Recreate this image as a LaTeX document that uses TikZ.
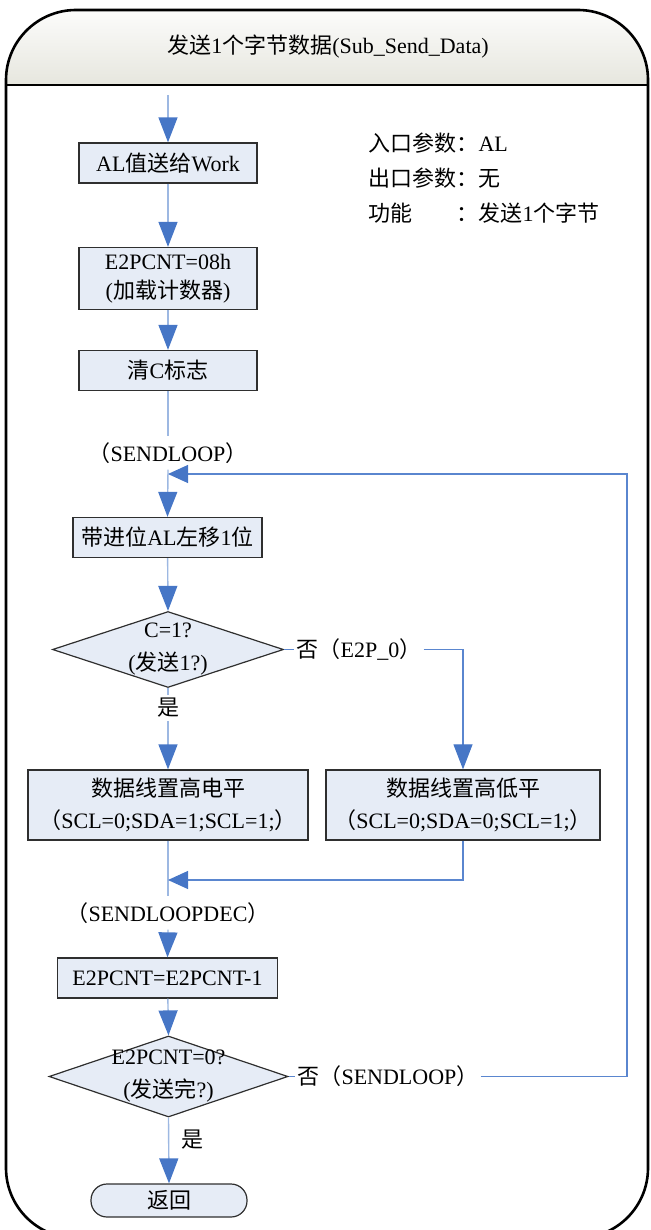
\documentclass[tikz,border=0pt]{standalone}
\usepackage{fontspec}
\setmainfont{Liberation Serif}
\newfontfamily\cjk{Noto Sans CJK SC}
\usetikzlibrary{arrows.meta,shapes.geometric}
\newcommand{\zh}[1]{{\cjk #1}}
\definecolor{boxfill}{HTML}{E6ECF6}
\definecolor{boxline}{HTML}{2F2F2F}
\definecolor{flow}{HTML}{9DB8E2}
\definecolor{loopc}{HTML}{5A86CF}
\definecolor{tipc}{HTML}{4676C6}
\definecolor{hdr}{HTML}{E6E6DE}
\begin{document}
\begin{tikzpicture}[x=1pt,y=-1pt,
  font=\fontsize{22}{29}\selectfont,
  proc/.style={draw=boxline,fill=boxfill,line width=1.3pt,inner sep=0pt,align=center},
  dec/.style={diamond,draw=boxline,fill=boxfill,line width=1.2pt,inner sep=0pt},
  lab/.style={inner sep=6pt},
  ln/.style={draw=flow,line width=1.4pt},
  lpl/.style={draw=loopc,line width=1.1pt},
  arr/.style={-{Triangle[length=25pt,width=19pt,color=tipc]}},
  harr/.style={-{Triangle[length=20pt,width=18pt,color=tipc]}},
  frame/.style={draw=black,line width=2.6pt}
]
\useasboundingbox (0,0) rectangle (650,1230);
% frame and header
\begin{scope}
\clip[rounded corners=70pt] (6,10) rectangle (648,1238);
\shade[top color=white,bottom color=hdr] (0,0) rectangle (650,85);
\end{scope}
\draw[frame,rounded corners=70pt] (6,10) rectangle (648,1238);
\draw[frame] (6,85) -- (648,85);
\node (title) at (328,47) {\zh{发送}1\zh{个字节数据}(Sub\_Send\_Data)};

% info
\node[anchor=west,align=left,font=\fontsize{22}{35}\selectfont] (info) at (365,178)
  {\zh{入口参数：}AL\\\zh{出口参数：无}\\\zh{功能\hspace{2em}：发送}1\zh{个字节}};

% nodes
\coordinate (start) at (168,95);
\node[proc,minimum width=178pt,minimum height=40pt] (b1) at (168,163) {AL\zh{值送给}Work};
\node[proc,minimum width=178pt,minimum height=62pt] (b2) at (168,278.5) {E2PCNT=08h\\(\zh{加载计数器})};
\node[proc,minimum width=178pt,minimum height=40pt] (b3) at (168,370.5) {\zh{清}C\zh{标志}};
\node[lab] (lp1) at (168,453) {\zh{（}SENDLOOP\zh{）}};
\coordinate (j1) at (168,474);
\node[proc,minimum width=189pt,minimum height=40pt] (b4) at (167.5,537.5) {\zh{带进位}AL\zh{左移}1\zh{位}};
\node[dec,minimum width=231pt,minimum height=76pt] (d1) at (168,649.5) {};
\node[align=center] (d1t) at (168,649.5) {C=1?\\[4pt](\zh{发送}1?)};
\node[lab,inner sep=3pt] (yes1) at (168,708) {\zh{是}};
\node[lab,inner sep=2pt] (no1) at (359,649.5) {\zh{否（}E2P\_0\zh{）}};
\node[proc,minimum width=280pt,minimum height=70pt] (b5) at (168,805) {\zh{数据线置高电平}\\[3pt]\zh{（}SCL=0;SDA=1;SCL=1;\zh{）}};
\node[proc,minimum width=274pt,minimum height=70pt] (b6) at (463,805) {\zh{数据线置高低平}\\[3pt]\zh{（}SCL=0;SDA=0;SCL=1;\zh{）}};
\coordinate (j2) at (168,880);
\node[lab] (lpd) at (168,913) {\zh{（}SENDLOOPDEC\zh{）}};
\node[proc,minimum width=220pt,minimum height=40pt] (b7) at (167.5,978) {E2PCNT=E2PCNT-1};
\node[dec,minimum width=239pt,minimum height=81pt] (d2) at (168.5,1076.5) {};
\node[align=center] (d2t) at (168.5,1076.5) {E2PCNT=0?\\[4pt](\zh{发送完}?)};
\node[lab,inner sep=2pt] (no2) at (388,1076.5) {\zh{否（}SENDLOOP\zh{）}};
\node (yes2) at (192,1140) {\zh{是}};
\node[draw=boxline,fill=boxfill,line width=1.2pt,rounded corners=16pt,minimum width=156pt,minimum height=33pt,inner sep=0pt] (ret) at (169,1200.5) {\zh{返回}};
\coordinate (rt) at (627,474);

% connectors
\draw[ln,arr] (start) -- (b1.north);
\draw[ln,arr] (b1) -- (b2);
\draw[ln,arr] (b2) -- (b3);
\draw[ln] (b3.south) -- (lp1.north);
\draw[ln,arr] (lp1.south) -- (b4.north);
\draw[ln,arr] (b4) -- (d1.north);
\draw[ln] (d1.south) -- (yes1.north);
\draw[ln,arr] (yes1.south) -- (b5.north);
\draw[lpl] (d1.east) -- (no1.west);
\draw[lpl,arr] (no1.east) -| (b6.north);
\draw[ln] (b5.south) -- (lpd.north);
\draw[lpl,harr] (b6.south) |- (j2);
\draw[ln,arr] (lpd.south) -- (b7.north);
\draw[ln,arr] (b7) -- (d2.north);
\draw[ln,arr] (d2.south) -- (ret.north);
\draw[lpl] (d2.east) -- (no2.west);
\draw[lpl,harr] (no2.east) -| (rt) -- (j1);
\end{tikzpicture}
\end{document}
